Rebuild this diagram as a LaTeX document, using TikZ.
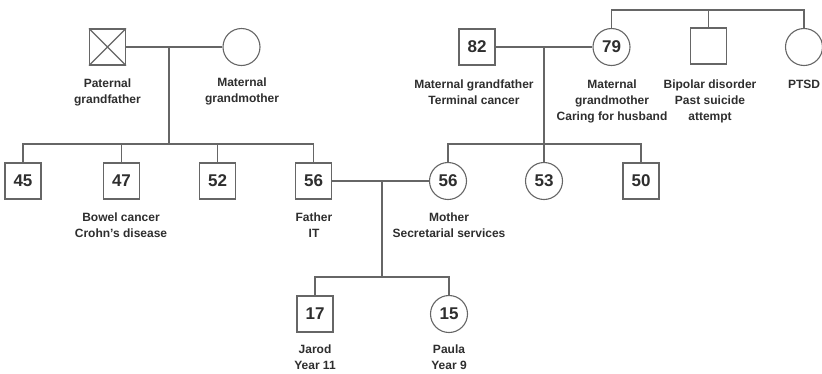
\documentclass[tikz,border=0pt]{standalone}
\usepackage{fontspec}
\setmainfont{Liberation Sans}
\begin{document}
\begin{tikzpicture}[x=1pt,y=-1pt,
  line/.style={draw=black!60,line width=1.1pt},
  male/.style={line,rectangle,minimum size=36pt,inner sep=0pt,fill=white,text=black!82,font=\fontsize{17}{17}\selectfont\bfseries},
  female/.style={line,circle,minimum size=37pt,inner sep=0pt,fill=white,text=black!82,font=\fontsize{17}{17}\selectfont\bfseries},
  lbl/.style={align=center,anchor=north,inner sep=0pt,text=black!82,font=\fontsize{12}{16}\selectfont\bfseries}]
\useasboundingbox (0,0) rectangle (822,373);
% generation 1 left
\node[male] (pgf) at (107.5,47) {};
\draw[line] (pgf.north west) -- (pgf.south east) (pgf.north east) -- (pgf.south west);
\node[female] (pgm) at (241.5,47) {};
\coordinate (pj) at (169,47);
\draw[line] (pgf.east) -- (pgm.west);
% generation 1 right
\node[male] (mgf) at (477,47) {82};
\node[female] (mgm) at (611.5,47) {79};
\node[male] (bip) at (708.5,46) {};
\node[female] (ptsd) at (804,47) {};
\coordinate (mj) at (544,47);
\draw[line] (mgf.east) -- (mgm.west);
\coordinate (topl) at (708.5,10);
\draw[line] (mgm.north) |- (topl) -| (ptsd.north);
\draw[line] (topl) -- (bip.north);
% generation 2
\node[male] (u45) at (23,181) {45};
\node[male] (u47) at (121.5,181) {47};
\node[male] (u52) at (217.5,181) {52};
\node[male] (fa) at (313.5,181) {56};
\node[female] (mo) at (448,181) {56};
\node[female] (a53) at (544,181) {53};
\node[male] (u50) at (641,181) {50};
\coordinate (ps) at (169,144);
\draw[line] (pj) -- (ps);
\draw[line] (u45.north) |- (ps) -| (fa.north);
\draw[line] (u47.north) -- (u47.north |- ps);
\draw[line] (u52.north) -- (u52.north |- ps);
\coordinate (ms) at (544,144);
\draw[line] (mj) -- (a53.north);
\draw[line] (mo.north) |- (ms) -| (u50.north);
% couple
\draw[line] (fa.east) -- (mo.west);
\coordinate (cj) at (382,181);
\coordinate (cs) at (382,277);
\node[male] (jar) at (315,314) {17};
\node[female] (pau) at (449,314) {15};
\draw[line] (cj) -- (cs);
\draw[line] (jar.north) |- (cs) -| (pau.north);
% labels
\node[lbl] (l1) at (107.5,79) {Paternal\\grandfather};
\node[lbl] (l2) at (242,78) {Maternal\\grandmother};
\node[lbl] (l3) at (474,80) {Maternal grandfather\\Terminal cancer};
\node[lbl] (l4) at (612,80) {Maternal\\grandmother\\Caring for husband};
\node[lbl] (l5) at (710,80) {Bipolar disorder\\Past suicide\\attempt};
\node[lbl] (l6) at (804,80) {PTSD};
\node[lbl] (l7) at (121,213) {Bowel cancer\\Crohn's disease};
\node[lbl] (l8) at (314,213) {Father\\IT};
\node[lbl] (l9) at (449,213) {Mother\\Secretarial services};
\node[lbl] (l10) at (315,345) {Jarod\\Year 11};
\node[lbl] (l11) at (449,345) {Paula\\Year 9};
\end{tikzpicture}
\end{document}
